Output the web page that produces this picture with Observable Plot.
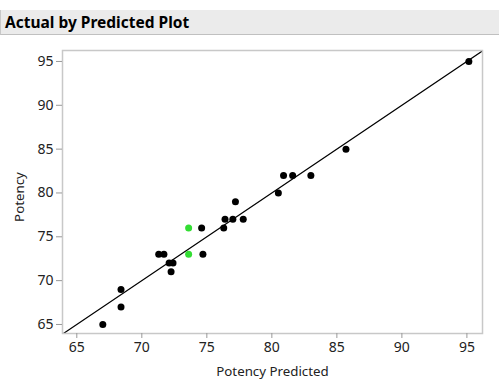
<!DOCTYPE html>
<html>
<head>
<meta charset="utf-8">
<script src="https://cdn.jsdelivr.net/npm/d3@7"></script>
<script src="https://cdn.jsdelivr.net/npm/@observablehq/plot@0.6"></script>
<style>
  html, body { margin: 0; padding: 0; background: #fff; }
  body { width: 499px; height: 390px; position: relative; overflow: hidden; font-family: "Noto Sans", sans-serif; }
  #title { position: absolute; left: 0; top: 10px; width: 494px; height: 24px; background: #ebebeb;
           border-left: 1px solid #c8c8c8; border-right: 1px solid #c8c8c8; border-bottom: 1px solid #c0c0c0;
           font-weight: bold; font-size: 15.5px; line-height: 24px; padding-left: 4px; box-sizing: content-box; color: #000; }
  #chart { position: absolute; left: 0; top: 40px; }
  #chart svg text { font-family: "Noto Sans", sans-serif !important; font-size: 14px !important; fill: #222; }
  #chart svg g.axis-title text { font-size: 13.3px !important; }
</style>
</head>
<body>
<div id="title">Actual by Predicted Plot</div>
<div id="chart"></div>
<script>
const predicted = [67.0, 68.4, 68.4, 71.3, 71.7, 72.1, 72.4, 72.25, 73.6, 73.6, 74.6, 74.7, 76.3, 76.4, 77.0, 77.2, 77.8, 80.5, 80.9, 81.6, 83.0, 85.7, 95.15];
const actual    = [65, 67, 69, 73, 73, 72, 72, 71, 76, 73, 76, 73, 76, 77, 77, 79, 77, 80, 82, 82, 82, 85, 95];
const excluded  = [false, false, false, false, false, false, false, false, true, true, false, false, false, false, false, false, false, false, false, false, false, false, false];
const ticks = [65, 70, 75, 80, 85, 90, 95];
const fitX = [60, 100];
const fitY = [60, 100];

const points = predicted.map((p, i) => ({pred: p, act: actual[i], excl: excluded[i]}));
const fit = fitX.map((x, i) => ({x, y: fitY[i]}));
const domain = [63.9, 96.2];

const plot = Plot.plot({
  width: 499,
  height: 350,
  marginTop: 10,
  marginBottom: 57,
  marginLeft: 62,
  marginRight: 17,
  style: {fontFamily: "Noto Sans, sans-serif", fontSize: "14px", color: "#222", background: "transparent"},
  x: {domain, ticks, label: null},
  y: {domain: [63.97, 96.25], ticks, label: null},
  marks: [
    Plot.line(fit, {x: "x", y: "y", stroke: "#000", strokeWidth: 1.2, clip: true}),
    Plot.dot(points, {x: "pred", y: "act", r: 3.5, fill: d => d.excl ? "#33dd33" : "#000", stroke: "none"}),
    Plot.frame({stroke: "#c8c8c8", strokeWidth: 1.5}),
    Plot.axisX({ticks, tickSize: 5, tickPadding: 4, stroke: "#999", label: null}),
    Plot.axisY({ticks, tickSize: 6, tickPadding: 3, stroke: "#999", label: null}),
    Plot.text(["Potency Predicted"], {frameAnchor: "bottom", dy: 42, fill: "#222", className: "axis-title"}),
    Plot.text(["Potency"], {frameAnchor: "left", textAnchor: "middle", dx: -43, dy: 5, rotate: -90, fill: "#222", className: "axis-title"})
  ]
});
document.getElementById("chart").appendChild(plot);
</script>
</body>
</html>
